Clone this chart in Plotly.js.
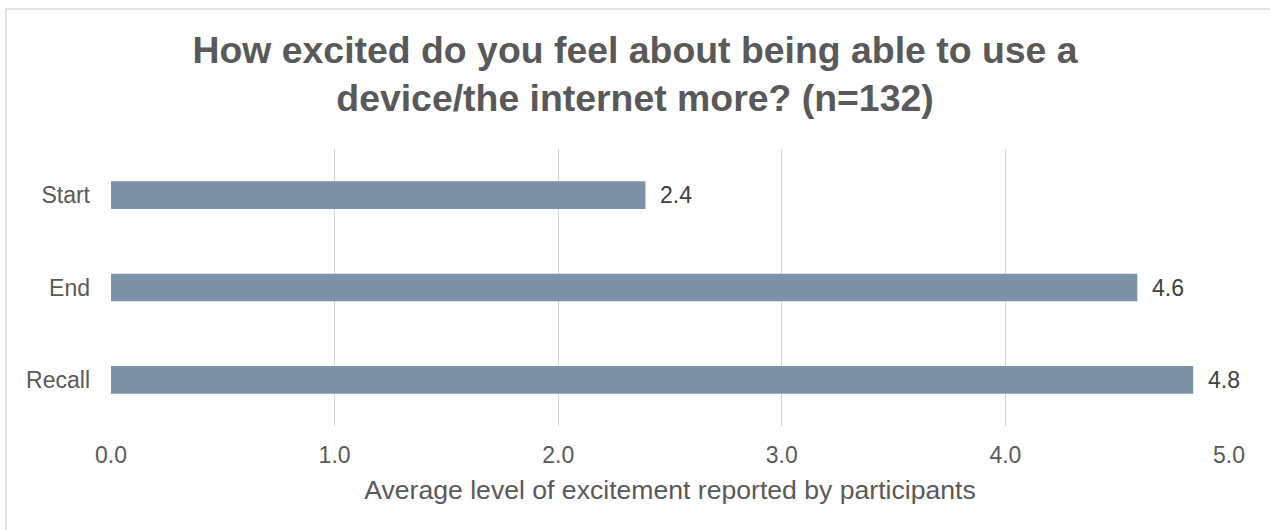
<!DOCTYPE html>
<html>
<head>
<meta charset="utf-8">
<script src="https://cdn.plot.ly/plotly-3.0.1.min.js"></script>
<style>
  html, body { margin: 0; padding: 0; background: #ffffff; }
  #chart { width: 1270px; height: 530px; }
</style>
</head>
<body>
<div id="chart"></div>
<script>
const categories = ["Start", "End", "Recall"];
const values = [2.39, 4.59, 4.84];
const xTickValues = [0, 1, 2, 3, 4, 5];
const titleText = "How excited do you feel about being able to use a<br>device/the internet more? (n=132)";
const xAxisTitle = "Average level of excitement reported by participants";

const fontFamily = "Liberation Sans, Arial, sans-serif";

const trace = {
  type: "bar",
  orientation: "h",
  x: values,
  y: categories,
  marker: { color: "#7d91a7" },
  hoverinfo: "x+y"
};

const annotations = values.map((v, i) => ({
  x: v,
  y: categories[i],
  xref: "x",
  yref: "y",
  text: v.toFixed(1),
  showarrow: false,
  xanchor: "left",
  yanchor: "middle",
  xshift: 13,
  font: { family: fontFamily, size: 23, color: "#404040" }
}));

const layout = {
  width: 1270,
  height: 530,
  margin: { l: 111, r: 41, t: 149, b: 104 },
  paper_bgcolor: "#ffffff",
  plot_bgcolor: "#ffffff",
  showlegend: false,
  bargap: 0.7,
  title: {
    text: titleText,
    font: { family: fontFamily, size: 37.4, color: "#595959", weight: "bold" },
    x: 0.5,
    xanchor: "center",
    xref: "container",
    y: 0.882,
    yref: "container",
    yanchor: "top"
  },
  xaxis: {
    range: [0, 5],
    tickvals: xTickValues,
    tickformat: ".1f",
    showgrid: true,
    gridcolor: "#d4d4d4",
    gridwidth: 1.3,
    zeroline: false,
    showline: false,
    ticks: "",
    ticklabelstandoff: 13,
    tickfont: { family: fontFamily, size: 23, color: "#595959" },
    title: {
      text: xAxisTitle,
      font: { family: fontFamily, size: 26.6, color: "#595959" },
      standoff: 13
    }
  },
  yaxis: {
    categoryorder: "array",
    categoryarray: categories,
    autorange: "reversed",
    showgrid: false,
    zeroline: false,
    showline: false,
    ticks: "",
    ticklabelstandoff: 20,
    tickfont: { family: fontFamily, size: 23, color: "#595959" }
  },
  annotations: annotations,
  shapes: [{
    type: "rect",
    xref: "paper",
    yref: "paper",
    x0: (6 - 111) / 1118,
    x1: (1290 - 111) / 1118,
    y0: (426 - 560) / 277,
    y1: (426 - 9) / 277,
    line: { color: "#d9d9d9", width: 1.5 },
    fillcolor: "rgba(0,0,0,0)",
    layer: "below"
  }]
};

Plotly.newPlot("chart", [trace], layout, { displayModeBar: false, staticPlot: true });
</script>
</body>
</html>
